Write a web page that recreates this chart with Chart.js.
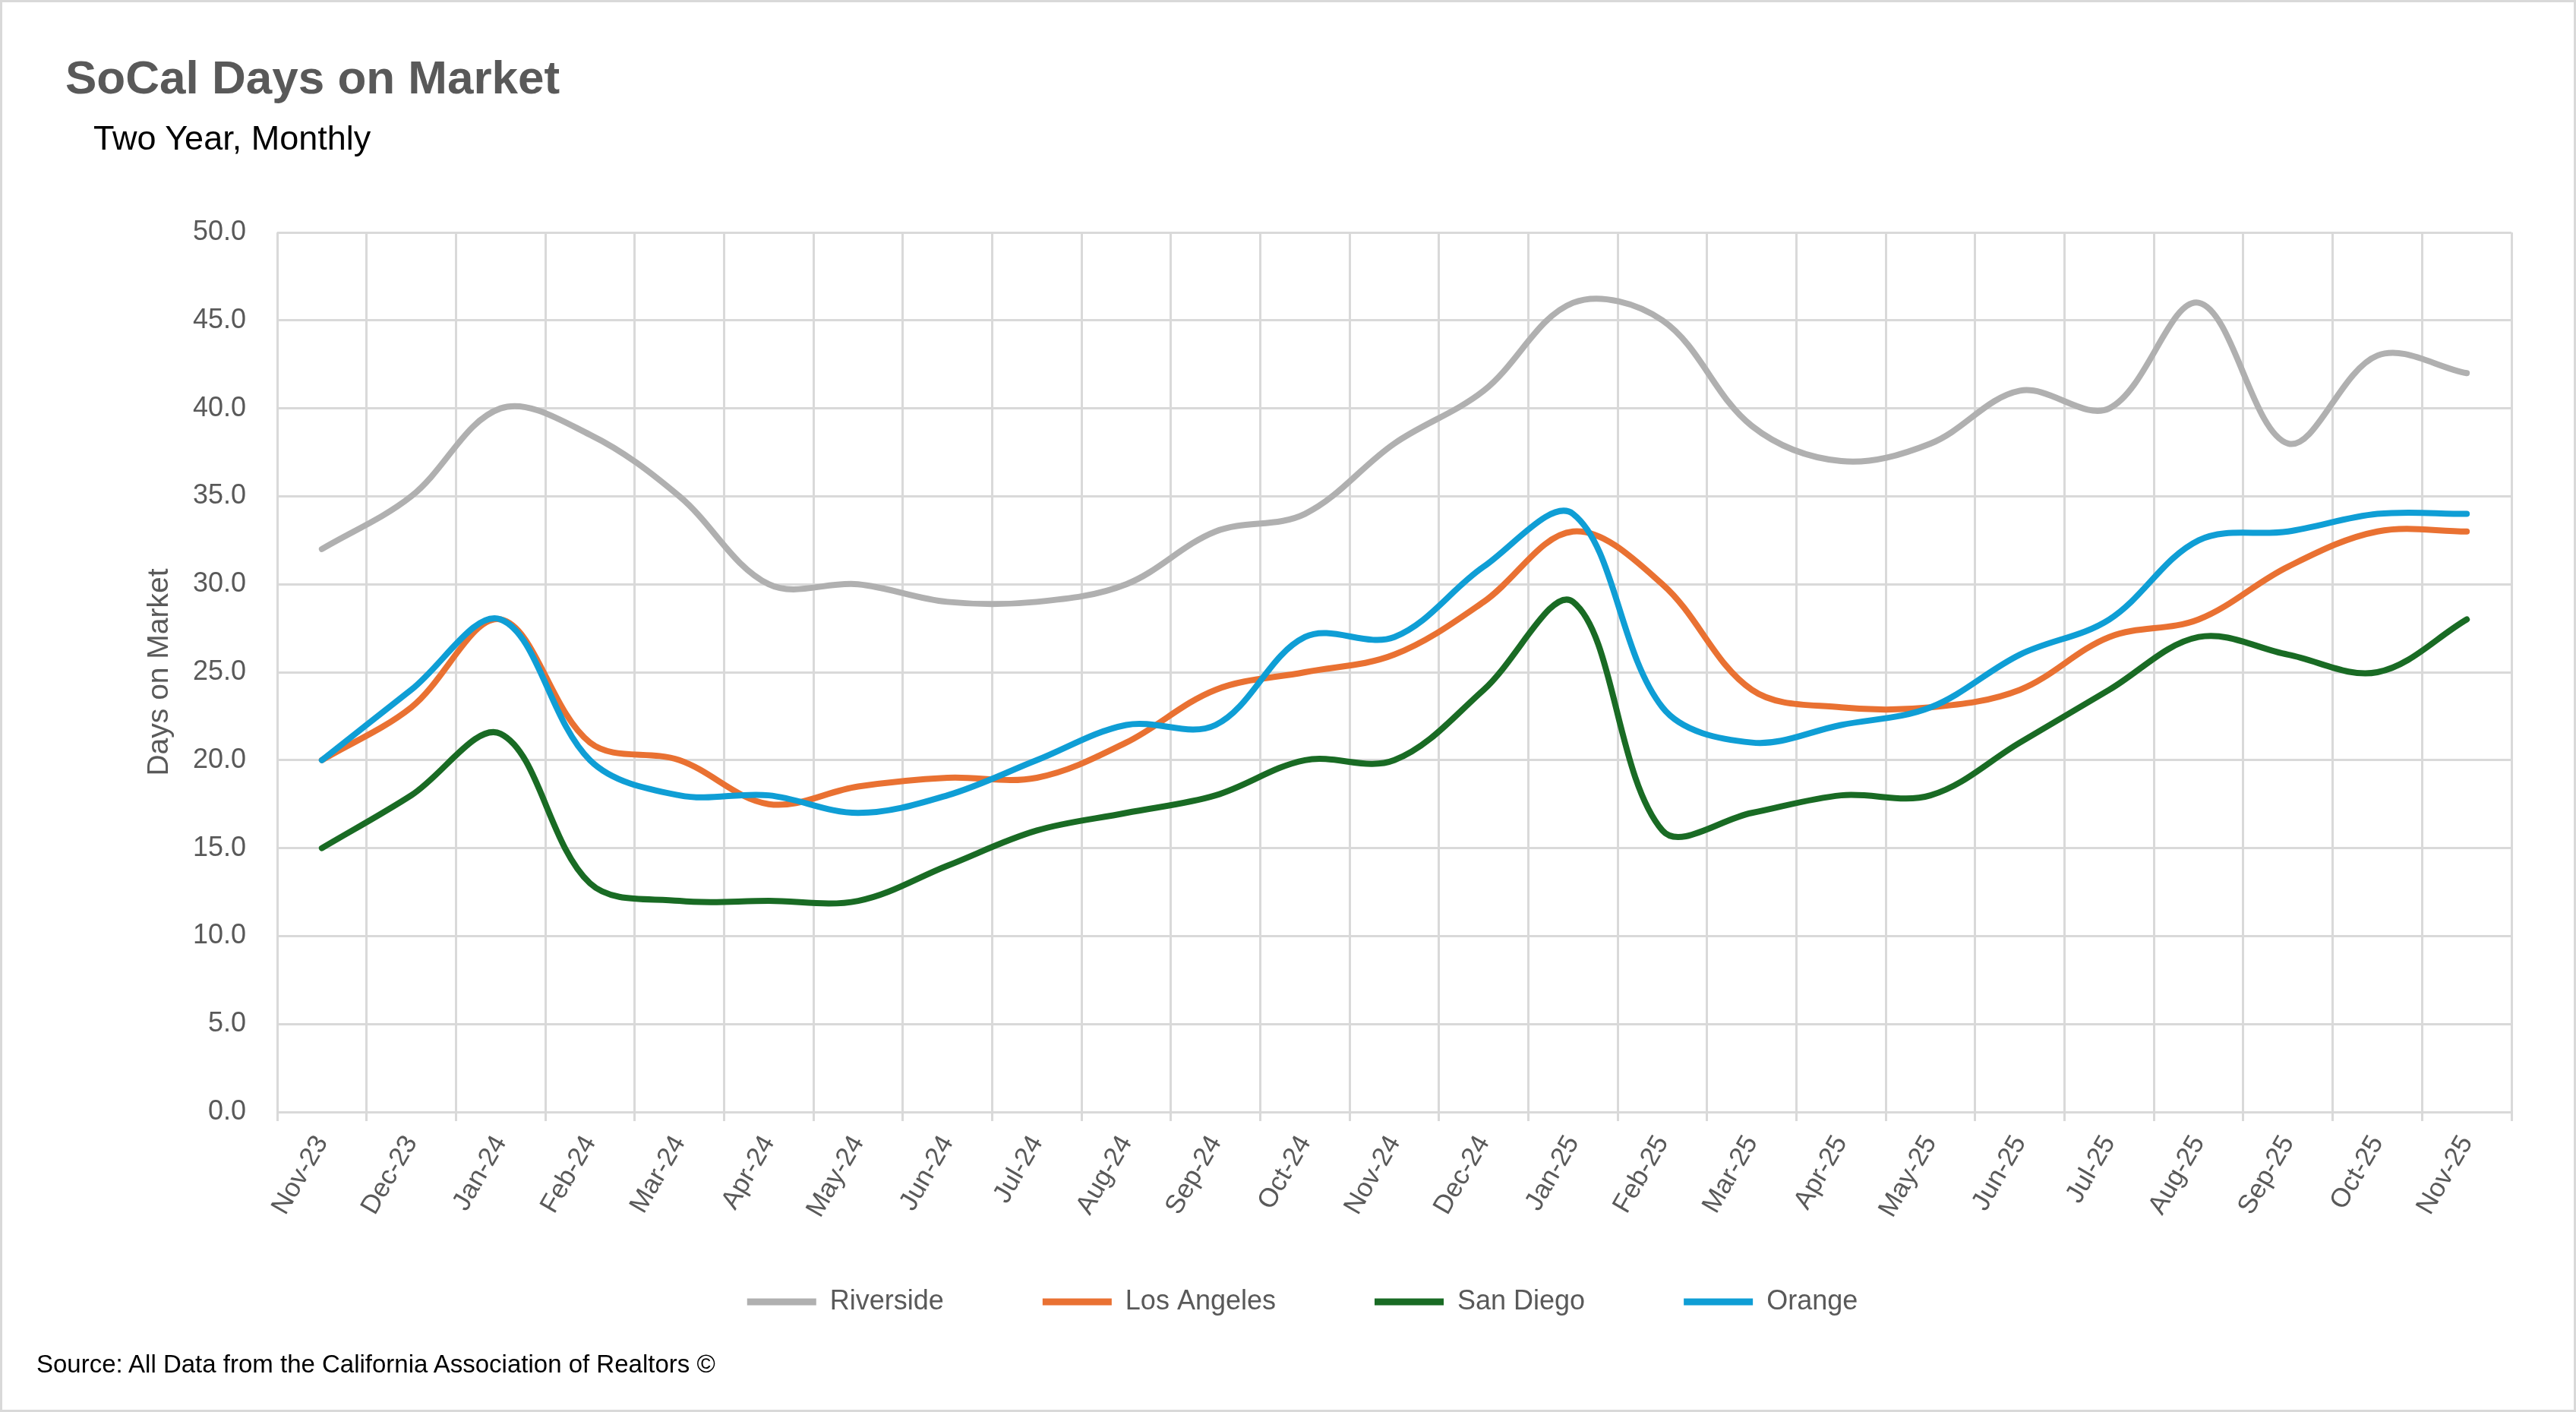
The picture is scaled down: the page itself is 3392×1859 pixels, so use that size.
<!DOCTYPE html>
<html>
<head>
<meta charset="utf-8">
<script src="https://cdn.jsdelivr.net/npm/chart.js@4.4.1/dist/chart.umd.min.js"></script>
<style>
    html, body { margin: 0; padding: 0; background: #fff; }
    #wrap {
        position: relative;
        width: 3392px;
        height: 1859px;
        box-sizing: border-box;
        border: 3px solid #d9d9d9;
        font-family: 'Liberation Sans', Arial, sans-serif;
    }
    #wrap canvas { position: absolute; left: 0; top: 0; }
    .txt { position: absolute; line-height: 1; white-space: nowrap; }
    #title { left: 83px; top: 68px; font-size: 62px; font-weight: bold; color: #595959; }
    #subtitle { left: 120px; top: 156px; font-size: 45px; color: #000; }
    #source { left: 45px; top: 1776px; font-size: 33px; color: #000; }
</style>
</head>
<body>
<div id="wrap">
    <canvas id="myChart"></canvas>
    <div class="txt" id="title">SoCal Days on Market</div>
    <div class="txt" id="subtitle">Two Year, Monthly</div>
    <div class="txt" id="source">Source: All Data from the California Association of Realtors ©</div>
</div>
<script>
const months = ['Nov-23', 'Dec-23', 'Jan-24', 'Feb-24', 'Mar-24', 'Apr-24', 'May-24', 'Jun-24', 'Jul-24',
    'Aug-24', 'Sep-24', 'Oct-24', 'Nov-24', 'Dec-24', 'Jan-25', 'Feb-25', 'Mar-25', 'Apr-25', 'May-25',
    'Jun-25', 'Jul-25', 'Aug-25', 'Sep-25', 'Oct-25', 'Nov-25'];

const riverside = [32, 35, 40, 38.5, 35, 30, 30, 29, 29, 30, 33, 34, 38, 41, 46, 45, 39, 37, 38, 41, 40, 46, 38, 43, 42];
const losAngeles = [20, 23, 28, 21, 20, 17.5, 18.5, 19, 19, 21, 24, 25, 26, 29, 33, 30, 24, 23, 23, 24, 27, 28, 31, 33, 33];
const sanDiego = [15, 18, 21.5, 13, 12, 12, 12, 14, 16, 17, 18, 20, 20, 24, 29, 16, 17, 18, 18, 21, 24, 27, 26, 25, 28];
const orange = [20, 24, 28, 20, 18, 18, 17, 18, 20, 22, 22, 27, 27, 31, 34, 23, 21, 22, 23, 26, 28, 32.5, 33, 34, 34];

const textGrey = '#595959';
const gridGrey = '#d9d9d9';
const font = "'Liberation Sans', Arial, sans-serif";

function series(label, data, color, order) {
    return {
        label: label,
        data: data,
        borderColor: color,
        backgroundColor: color,
        borderWidth: 8,
        borderCapStyle: 'round',
        pointRadius: 0,
        pointHoverRadius: 0,
        tension: 0.35,
        order: order
    };
}

// legend gap between items, like the Excel legend
const gap = ' '.repeat(9);

let chart = document.getElementById('myChart').getContext('2d');

let myChart = new Chart(chart, {
    type: 'line',
    data: {
        labels: months,
        datasets: [
            series('Riverside', riverside, '#b0b0b0', 4),
            series('Los Angeles', losAngeles, '#e97132', 3),
            series('San Diego', sanDiego, '#196b24', 2),
            series('Orange', orange, '#0f9ed5', 1)
        ]
    },
    options: {
        responsive: true,
        maintainAspectRatio: false,
        animation: false,
        layout: {
            padding: { left: 180, right: 82, top: 303, bottom: 114 }
        },
        plugins: {
            tooltip: { enabled: false },
            legend: {
                position: 'bottom',
                labels: {
                    color: textGrey,
                    font: { family: font, size: 36 },
                    boxWidth: 91,
                    boxHeight: 9,
                    padding: 40,
                    generateLabels: function (c) {
                        const items = Chart.defaults.plugins.legend.labels.generateLabels(c);
                        items.sort((a, b) => a.datasetIndex - b.datasetIndex);
                        return items.map((item, i) => {
                            item.text = item.text + (i < items.length - 1 ? gap : ' '.repeat(6));
                            item.lineWidth = 0;
                            item.fillStyle = item.strokeStyle;
                            return item;
                        });
                    }
                }
            }
        },
        scales: {
            x: {
                offset: true,
                grid: {
                    offset: true,
                    color: gridGrey,
                    lineWidth: 3,
                    tickLength: 12
                },
                border: { color: gridGrey, width: 3 },
                ticks: {
                    color: textGrey,
                    font: { family: font, size: 35 },
                    maxRotation: 60,
                    minRotation: 60,
                    padding: 12,
                    autoSkip: false
                },
                afterFit: function (scale) {
                    scale.height = 192;
                }
            },
            y: {
                min: 0,
                max: 50,
                grid: {
                    color: gridGrey,
                    lineWidth: 3,
                    drawTicks: false
                },
                border: { display: false },
                ticks: {
                    stepSize: 5,
                    color: textGrey,
                    padding: 41,
                    font: { family: font, size: 36 },
                    callback: v => v.toFixed(1)
                },
                title: {
                    display: true,
                    text: 'Days on Market',
                    color: textGrey,
                    font: { family: font, size: 39 },
                    padding: { top: 4, bottom: 0 }
                },
                afterFit: function (scale) {
                    scale.width = 182;
                }
            }
        }
    }
});
</script>
</body>
</html>
